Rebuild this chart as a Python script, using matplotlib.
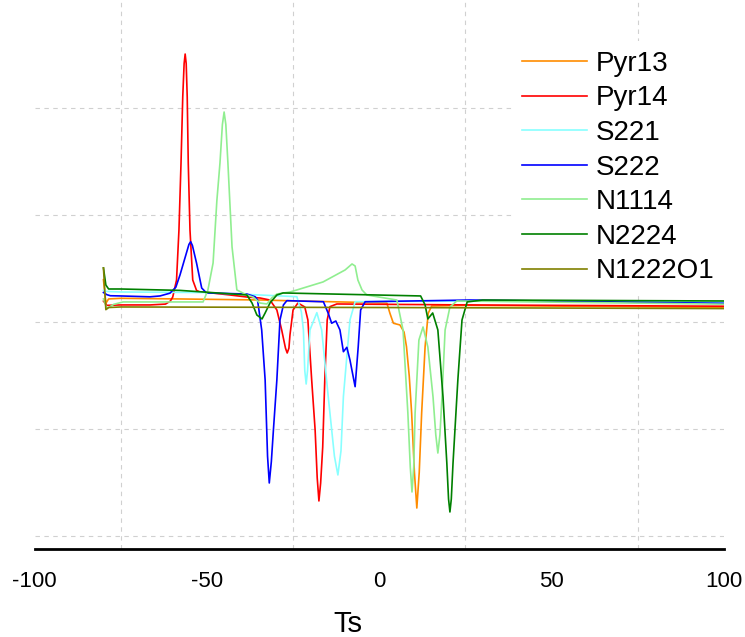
import matplotlib
matplotlib.use("Agg")
import matplotlib.pyplot as plt

plt.rcParams['font.family'] = ['Liberation Sans', 'DejaVu Sans']

labels = ["Pyr13", "Pyr14", "S221", "S222", "N1114", "N2224", "N1222O1"]
colors = ["#ff8c00", "#ff0000", "#88ffff", "#0000ff", "#90ee90", "#008000", "#808000"]

pyr13_x = [-80, -79.3, -78.5, -75, -58, -34, -25.9, 2.2, 3.1, 4.1, 6.0, 7.2, 7.9, 8.7, 9.4, 10.2, 10.9, 11.6, 12.3, 13.3, 14.2, 15.2, 26, 100]
pyr13_y = [0.40, 0.18, 0.22, 0.226, 0.22, 0.21, 0.203, 0.182, 0.086, -0.007, -0.023, -0.09, -0.226, -0.50, -0.849, -1.40, -1.734, -1.40, -0.846, -0.226, 0.086, 0.154, 0.16, 0.14]

pyr14_x = [-80, -79, -75, -66.5, -62, -60.6, -59.9, -58.8, -58.1, -57.5, -57.0, -56.6, -56.3, -56.0, -55.7, -55.4, -54.9, -54.1, -53.0, -52.0, -51.1, -43.3, -38.4, -34.6, -31.7,
           -29.7, -28.3, -27.2, -26.7, -26.2, -25.9, -25.0, -23.6, -21.6, -20.7, -19.6, -18.6, -18.0, -17.5, -17.0, -16.4, -15.8, -15.1, -14.3, -12.3, 26.3, 100]
pyr14_y = [0.20, 0.16, 0.164, 0.164, 0.172, 0.20, 0.238, 0.397, 0.864, 1.491, 2.107, 2.42, 2.509, 2.42, 2.107, 1.491, 0.864, 0.397, 0.30, 0.285, 0.285, 0.257, 0.238, 0.229, 0.210,
           0.117, -0.07, -0.24, -0.285, -0.24, -0.117, 0.117, 0.182, 0.145, 0.023, -0.537, -1.005, -1.45, -1.668, -1.50, -1.164, -0.537, 0.023, 0.148, 0.173, 0.164, 0.152]

s221_x = [-80, -79, -75, -51, -34.6, -23.9, -22.6, -22.0, -21.6, -21.2, -20.8, -20.1, -18.1, -16.7, -14.8, -13.0, -12.0, -11.1, -10.4, -8.5, -7.0, 26, 100]
s221_y = [0.30, 0.29, 0.285, 0.28, 0.257, 0.241, 0.10, -0.07, -0.45, -0.575, -0.45, -0.07, 0.092, -0.07, -0.693, -1.25, -1.425, -1.20, -0.693, 0.023, 0.194, 0.20, 0.19]

s222_x = [-80, -79, -78, -75, -66.5, -63.6, -60.7, -59.0, -57.8, -56.2, -55.2, -54.7, -54.2, -53.0, -51.5, -50.1, -38.4, -36.0, -35.3, -34.1, -33.1, -32.4, -31.9,
          -31.3, -30.7, -29.7, -28.8, -27.8, -26.8, -16.2, -14.8, -13.8, -12.6, -11.4, -10.4, -9.4, -8.5, -7.0, -6.1, -5.4, -4.1, 26.3, 100]
s222_y = [0.28, 0.26, 0.25, 0.248, 0.240, 0.248, 0.274, 0.33, 0.444, 0.62, 0.73, 0.755, 0.72, 0.556, 0.322, 0.276, 0.266, 0.241, 0.21, -0.07, -0.537, -1.25, -1.5,
          -1.30, -1.005, -0.537, 0.023, 0.164, 0.204, 0.194, 0.086, -0.007, 0.014, -0.07, -0.273, -0.232, -0.35, -0.6, -0.226, 0.117, 0.194, 0.21, 0.179]

n1114_x = [-80, -79, -77, -74.3, -51.1, -49.7, -48.2, -47.1, -46.2, -45.5, -45.0, -44.5, -43.9, -42.7, -41.3, -38.4, -36.6, -34.6, -32.6, -31.2,
           -29.7, -25.9, -23.9, -16.3, -9.9, -7.9, -7.0, -6.2, -5.0, -3.6, 5.1, 6.9, 8.3, 9.0, 9.5, 10.0, 10.4, 11.5, 12.7, 14.1, 15.6, 16.4, 17.0, 17.6,
           18.2, 19.1, 20.5, 22.5, 100]
n1114_y = [0.22, 0.13, 0.17, 0.192, 0.192, 0.304, 0.556, 1.14, 1.491, 1.85, 1.967, 1.85, 1.491, 0.706, 0.304, 0.257, 0.238, 0.182, 0.173, 0.229,
           0.266, 0.285, 0.304, 0.379, 0.491, 0.547, 0.528, 0.397, 0.304, 0.257, 0.21, -0.07, -0.846, -1.35, -1.584, -1.35, -0.846, -0.164, -0.042, -0.229, -0.696, -1.05, -1.22, -1.05,
           -0.696, -0.07, 0.145, 0.201, 0.171]

n2224_x = [-80, -79.3, -78.5, -75, -57.8, -38.4, -36.9, -35.5, -34.0, -33.1, -31.7, -29.7, -27.9, 12.0, 13.3, 14.1, 15.5, 17.0,
           18.5, 19.6, 20.1, 20.5, 20.9, 21.4, 22.8, 24.0, 25.5, 30, 100]
n2224_y = [0.51, 0.35, 0.313, 0.313, 0.30, 0.257, 0.182, 0.07, 0.033, 0.089, 0.182, 0.257, 0.276, 0.248, 0.164, 0.033, 0.089, -0.07,
           -0.696, -1.313, -1.65, -1.771, -1.65, -1.313, -0.537, 0.023, 0.192, 0.21, 0.201]

n1222o1_x = [-80, -79.3, -78.5, -75, 0, 100]
n1222o1_y = [0.51, 0.12, 0.14, 0.145, 0.14, 0.13]

series = [(pyr13_x, pyr13_y), (pyr14_x, pyr14_y), (s221_x, s221_y), (s222_x, s222_y),
          (n1114_x, n1114_y), (n2224_x, n2224_y), (n1222o1_x, n1222o1_y)]

xticks = [-100, -50, 0, 50, 100]
xgrid = [-75, -25, 25, 75]
ygrid = [-2, -1, 0, 1, 2]

fig = plt.figure(figsize=(7.45, 6.37), dpi=100)
ax = fig.add_axes([34.5 / 745, 1 - 549 / 637, (724 - 34.5) / 745, 549 / 637])

for (xs, ys), lab, col in zip(series, labels, colors):
    ax.plot(xs, ys, color=col, lw=1.2, label=lab)

ax.set_xlim(-100, 100)
ax.set_ylim(-2.117, 3.014)
ax.set_xticks(xticks)
ax.set_xticklabels([str(t) for t in xticks])
ax.set_xticks(xgrid, minor=True)
ax.set_yticks(ygrid)
ax.set_yticklabels([])
ax.tick_params(axis='both', which='both', length=0)
ax.tick_params(axis='x', labelsize=16, pad=16)
ax.grid(True, which='minor', axis='x', color='#d0d0d0', linestyle=(0, (4, 4)), lw=0.8)
ax.grid(True, which='major', axis='y', color='#d0d0d0', linestyle=(0, (4, 4)), lw=0.8)
ax.grid(False, which='major', axis='x')
for s in ['top', 'right', 'left']:
    ax.spines[s].set_visible(False)
ax.spines['bottom'].set_linewidth(2.0)
ax.set_xlabel("Ts", fontsize=21)
ax.xaxis.set_label_coords(0.455, -0.111)

leg = ax.legend(loc='upper left', bbox_to_anchor=(512 / 745, 1 - 41 / 637), bbox_transform=fig.transFigure,
                fontsize=20, frameon=True, facecolor='white', edgecolor='none', framealpha=1,
                handlelength=2.35, handletextpad=0.32, labelspacing=0.31, borderpad=0.35, borderaxespad=0)

fig.savefig("out.png", dpi=100)
